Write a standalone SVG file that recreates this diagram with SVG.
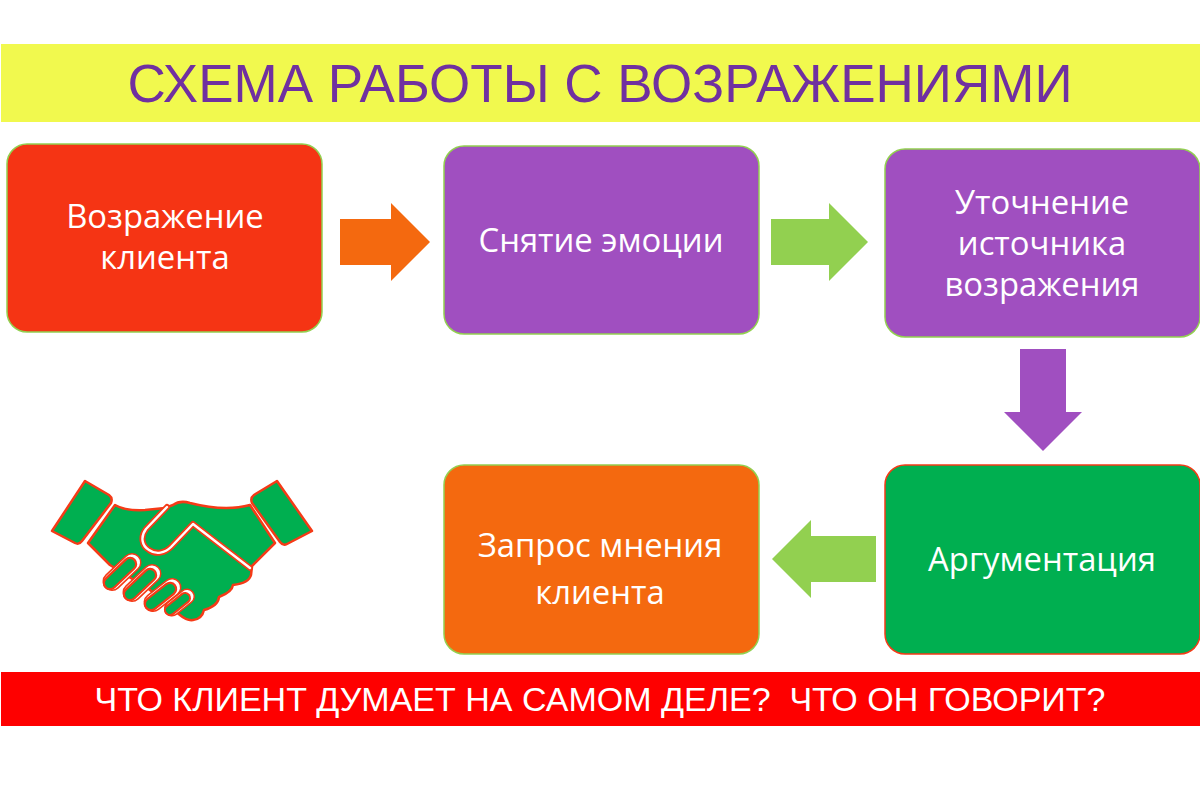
<svg xmlns="http://www.w3.org/2000/svg" width="1200" height="801" viewBox="0 0 1200 801">
<style>
.n{stroke-width:1.5}
.t{font-family:"Open Sans","Noto Sans",sans-serif;font-size:32.8px;fill:#fff;text-anchor:middle}
.h{font-family:"Liberation Sans",Arial,sans-serif;text-anchor:middle}
.g{stroke:#f53a17;stroke-width:2.5;fill:#00af50;stroke-linejoin:round}
.l{fill:none;stroke-linecap:round;stroke-linejoin:round}
.a{stroke:#f53a17;stroke-width:6}
.b{stroke:#fff;stroke-width:2.4}
.f0{stroke:#f53a17;stroke-width:19}
.f1{stroke:#fff;stroke-width:16}
.f2{stroke:#f53a17;stroke-width:14.500}
.f3{stroke:#00af50;stroke-width:10}
</style>
<rect width="1200" height="801" fill="#fff"/>
<g id="title"><rect x="1" y="44" width="1199" height="78" fill="#f1f94e"/><text class="h" x="600" y="102" font-size="53" fill="#7030a0">СХЕМА РАБОТЫ С ВОЗРАЖЕНИЯМИ</text></g>
<g id="footer"><rect x="1" y="672" width="1199" height="54" fill="#fe0000"/><text class="h" x="600" y="711" font-size="34" fill="#fff" xml:space="preserve">ЧТО КЛИЕНТ ДУМАЕТ НА САМОМ ДЕЛЕ?  ЧТО ОН ГОВОРИТ?</text></g>
<g id="node1"><rect class="n" x="7" y="144" width="315" height="188" rx="20" fill="#f53414" stroke="#92d050"/><text class="t" x="165" y="228">Возражение</text><text class="t" x="165" y="269">клиента</text></g>
<g id="node2"><rect class="n" x="444" y="146" width="315" height="188" rx="20" fill="#a04fc0" stroke="#92d050"/><text class="t" x="601" y="252">Снятие эмоции</text></g>
<g id="node3"><rect class="n" x="885" y="149" width="315" height="188" rx="20" fill="#a04fc0" stroke="#92d050"/><text class="t" x="1042" y="214">Уточнение</text><text class="t" x="1042" y="255">источника</text><text class="t" x="1042" y="296">возражения</text></g>
<g id="node4"><rect class="n" x="885" y="465" width="315" height="189" rx="20" fill="#00af50" stroke="#f53a17"/><text class="t" x="1042" y="571">Аргументация</text></g>
<g id="node5"><rect class="n" x="444" y="465" width="315" height="189" rx="20" fill="#f4690f" stroke="#92d050"/><text class="t" x="600" y="557">Запрос мнения</text><text class="t" x="600" y="604">клиента</text></g>
<g id="connectors">
<polygon points="340,219 391,219 391,203 430,242 391,281 391,265 340,265" fill="#f4690f"/>
<polygon points="771,219 829,219 829,203 868,242 829,281 829,265 771,265" fill="#92d050"/>
<polygon points="1020,349 1066,349 1066,412 1082,412 1043,451 1004,412 1020,412" fill="#a04fc0"/>
<polygon points="876,536 811,536 811,520 772,559 811,598 811,582 876,582" fill="#92d050"/>
</g>
<g id="handshake">
<path class="g" d="M85,481 L109,495 Q113,498 111,503 L82,541 Q79,545 75,543 L52,531 Z"/>
<path class="g" d="M277,481 L312,531 L287,544 Q283,546 280,542 L252,503 Q250,498 254,495 Z"/>
<path class="g" d="M115,505 Q125,511 145,510 L165,508 L173,505 Q180,500 190,503 Q225,512 250,505 L275,543 L252,566 L251,575 Q249,583 233,585 Q232,592 219,597 Q218,606 204,610 Q202,619 193,620 Q187,621 180,615 L150,590 L110,565 L88,543 Z"/>
<path class="l a" d="M167,507 L146,529 C140,537 142,546 149,550 C156,555 165,553 171,547 L193,524 L250,568"/>
<path class="l b" d="M167,507 L146,529 C140,537 142,546 149,550 C156,555 165,553 171,547 L193,524 L250,568"/>
<path class="l f0" d="M112,581.500 L132,562.500"/><path class="l f1" d="M112,581.500 L132,562.500"/>
<path class="l f2" d="M110,583 L130,564"/><path class="l f3" d="M110,583 L130,564"/>
<path class="l f0" d="M132,592.500 L152,573.500"/><path class="l f1" d="M132,592.500 L152,573.500"/>
<path class="l f2" d="M130,594 L150,575"/><path class="l f3" d="M130,594 L150,575"/>
<path class="l f0" d="M153,602.500 L172,587.500"/><path class="l f1" d="M153,602.500 L172,587.500"/>
<path class="l f2" d="M151,604 L170,589"/><path class="l f3" d="M151,604 L170,589"/>
<path class="l f0" style="stroke-width:16" d="M172,608.500 L187,596.500"/><path class="l f1" style="stroke-width:13" d="M172,608.500 L187,596.500"/>
<path class="l f2" style="stroke-width:12" d="M170,610 L185,598"/><path class="l f3" style="stroke-width:8" d="M170,610 L185,598"/>
</g>
</svg>
